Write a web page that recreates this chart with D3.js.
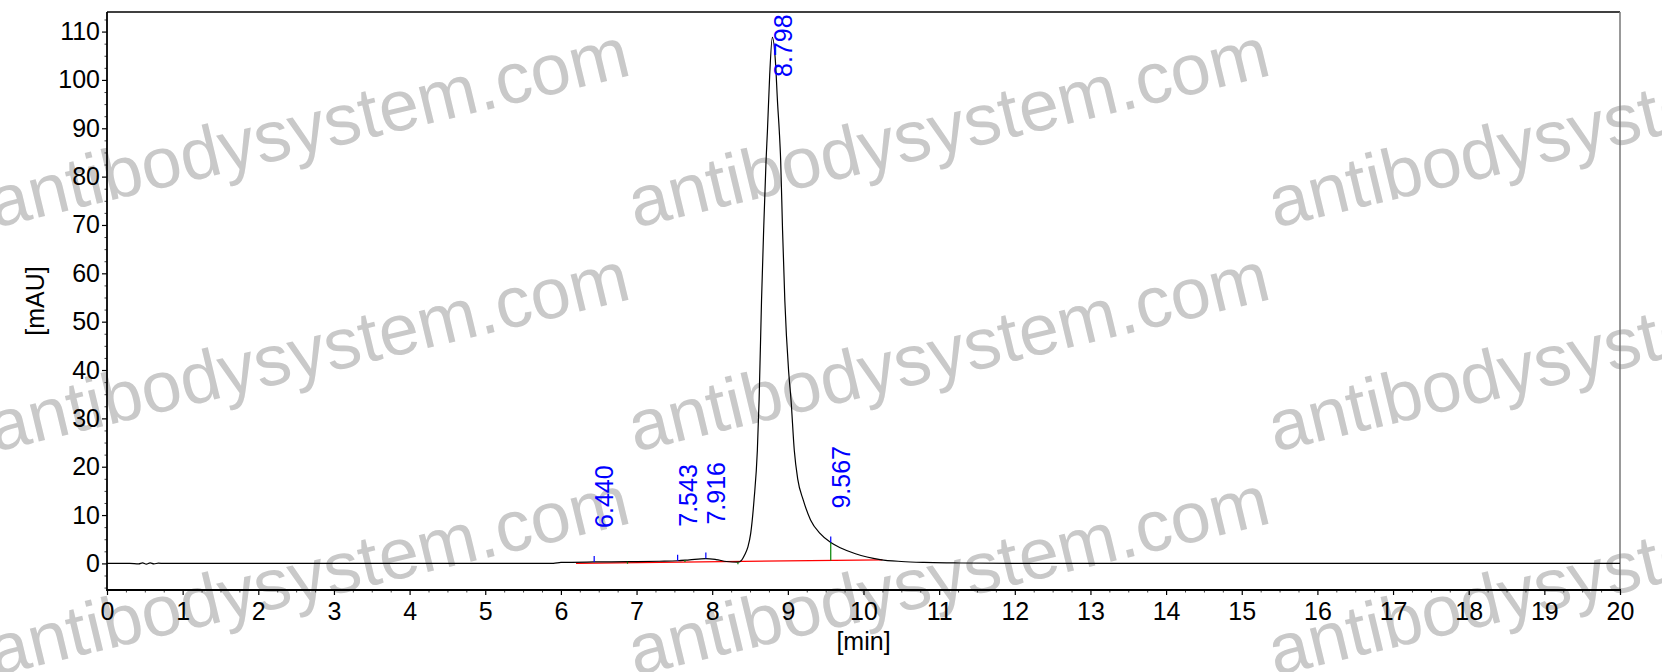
<!DOCTYPE html>
<html>
<head>
<meta charset="utf-8">
<script src="https://cdn.jsdelivr.net/npm/d3@7/dist/d3.min.js"></script>
<style>
  html, body { margin: 0; padding: 0; background: #fff; }
  svg { display: block; }
  text { font-family: "Liberation Sans", Arial, sans-serif; }
</style>
</head>
<body>
<svg id="chart" width="1662" height="672"></svg>
<script>
// ---- data ----
const times = [0, 0.3, 0.42, 0.47, 0.52, 0.57, 0.62, 0.68, 0.75, 1.0, 2.0, 3.0, 4.0, 5.0, 5.9, 6.0, 6.44, 6.9, 7.3, 7.543, 7.7, 7.916, 8.05, 8.19, 8.34, 8.39, 8.43, 8.47, 8.509, 8.553, 8.597, 8.62, 8.652, 8.68, 8.712, 8.73, 8.76, 8.795, 8.835, 8.865, 8.887, 8.905, 8.93, 8.96, 9.01, 9.042, 9.085, 9.13, 9.204, 9.30, 9.425, 9.567, 9.70, 9.894, 10.22, 10.5, 10.8, 11.2, 12.0, 14, 16, 18, 20];
const signal = [0, 0, -0.1, 0.1, -0.15, 0.1, -0.1, 0.05, 0, 0, 0, 0, 0, 0, 0, 0.2, 0.3, 0.35, 0.45, 0.55, 0.75, 1.0, 0.8, 0.4, 0.25, 0.7, 1.8, 3.3, 6.2, 13.1, 23.4, 33.8, 54.4, 68.9, 83.4, 89.4, 101, 108.8, 104, 95, 89.4, 83.4, 68.9, 54.4, 39.8, 33.8, 23.4, 17.5, 13.1, 9.0, 6.2, 4.3, 3.2, 2.0, 0.8, 0.4, 0.2, 0.1, 0, 0, 0, 0, 0];

const peakTimes = [6.440, 7.543, 7.916, 8.798, 9.567];
const peakLabels = ["6.440", "7.543", "7.916", "8.798", "9.567"];
const peakHeights = [0.3, 0.55, 1.0, 108.8, 4.3];

const dropTimes = [6.88, 7.64, 8.34, 9.567];
const dropHeights = [0.35, 0.7, 0.25, 4.3];

const baselineTimes = [6.2, 10.25];
const baselineValues = [0.0, 0.75];

const xTicks = d3.range(0, 21, 1);
const yTicks = d3.range(0, 111, 10);
const xMinorTicks = d3.range(0, 20.001, 0.25);
const yMinorTicks = d3.range(-5, 112.6, 2.5);

const xTitle = "[min]";
const yTitle = "[mAU]";
const watermark = "antibodysystem.com";

// ---- layout ----
const L = 107, R = 1620, T = 12, B = 590;
const svg = d3.select("#chart");
const x = d3.scaleLinear().domain([0, 20]).range([L, R]);
const y = d3.scaleLinear().domain([-5.5, 114.05]).range([B, T]);

// watermark (behind)
const wm = svg.append("g");
for (let r = 0; r < 3; r++) {
  for (let c = 0; c < 3; c++) {
    const x0 = -5 + c * 640, y0 = 228 + r * 224;
    wm.append("text")
      .attr("transform", `translate(${x0},${y0}) rotate(-13.5)`)
      .attr("font-size", 72)
      .attr("fill", "#c9c9c9")
      .text(watermark);
  }
}

// clip
svg.append("clipPath").attr("id", "clip")
  .append("rect").attr("x", L).attr("y", T).attr("width", R - L).attr("height", B - T);

// axes
const fs = 25;
const yAxis = svg.append("g").attr("transform", `translate(${L},0)`)
  .call(d3.axisLeft(y).tickValues(yTicks).tickSize(5).tickPadding(2).tickFormat(d3.format("d")));
yAxis.select(".domain").remove();
yAxis.selectAll("text").attr("font-size", fs).attr("fill", "#000").attr("font-family", "Liberation Sans, Arial, sans-serif");
yAxis.selectAll("line").attr("stroke", "#000").attr("stroke-width", 1.2);

const yMinor = svg.append("g").attr("transform", `translate(${L},0)`)
  .call(d3.axisLeft(y).tickValues(yMinorTicks.filter(v => v % 10 !== 0)).tickSize(2.5).tickFormat(""));
yMinor.select(".domain").remove();
yMinor.selectAll("line").attr("stroke", "#444").attr("stroke-width", 1);

const xAxis = svg.append("g").attr("transform", `translate(0,${B})`)
  .call(d3.axisBottom(x).tickValues(xTicks).tickSize(5).tickPadding(7).tickFormat(d3.format("d")));
xAxis.select(".domain").remove();
xAxis.selectAll("text").attr("font-size", fs).attr("fill", "#000").attr("font-family", "Liberation Sans, Arial, sans-serif");
xAxis.selectAll("line").attr("stroke", "#000").attr("stroke-width", 1.2);

const xMinor = svg.append("g").attr("transform", `translate(0,${B})`)
  .call(d3.axisBottom(x).tickValues(xMinorTicks.filter(v => v % 1 !== 0)).tickSize(2.5).tickFormat(""));
xMinor.select(".domain").remove();
xMinor.selectAll("line").attr("stroke", "#444").attr("stroke-width", 1);

// frame
svg.append("line").attr("x1", L).attr("x2", R).attr("y1", T).attr("y2", T).attr("stroke", "#000").attr("stroke-width", 1.5);
svg.append("line").attr("x1", R).attr("x2", R).attr("y1", T).attr("y2", B).attr("stroke", "#777").attr("stroke-width", 1.5);
svg.append("line").attr("x1", L).attr("x2", L).attr("y1", T).attr("y2", B + 1).attr("stroke", "#000").attr("stroke-width", 1.8);
svg.append("line").attr("x1", L).attr("x2", R + 1).attr("y1", B).attr("y2", B).attr("stroke", "#000").attr("stroke-width", 2.2);

// titles
svg.append("text").attr("x", (L + R) / 2).attr("y", 650).attr("text-anchor", "middle")
  .attr("font-size", fs).attr("fill", "#000").text(xTitle);
svg.append("text").attr("transform", `translate(44,${(T + B) / 2}) rotate(-90)`).attr("text-anchor", "middle")
  .attr("font-size", fs).attr("fill", "#000").text(yTitle);

const plot = svg.append("g").attr("clip-path", "url(#clip)");

// integration baseline
plot.append("line")
  .attr("x1", x(baselineTimes[0])).attr("y1", y(baselineValues[0]))
  .attr("x2", x(baselineTimes[1])).attr("y2", y(baselineValues[1]))
  .attr("stroke", "#ff0000").attr("stroke-width", 1.2);

// chromatogram
const pts = times.map((t, i) => [t, signal[i]]);
plot.append("path").datum(pts)
  .attr("fill", "none").attr("stroke", "#000").attr("stroke-width", 1.2)
  .attr("d", d3.line().x(d => x(d[0])).y(d => y(d[1])).curve(d3.curveMonotoneX));

// drop lines (green)
const blAt = t => baselineValues[0] + (t - baselineTimes[0]) / (baselineTimes[1] - baselineTimes[0]) * (baselineValues[1] - baselineValues[0]);
dropTimes.forEach((t, i) => {
  plot.append("line").attr("x1", x(t)).attr("x2", x(t))
    .attr("y1", y(dropHeights[i])).attr("y2", Math.max(y(blAt(t)), y(dropHeights[i]) + 2))
    .attr("stroke", "#008000").attr("stroke-width", 1.2);
});

// peak ticks and labels (blue)
peakTimes.forEach((t, i) => {
  const yp = y(peakHeights[i]);
  if (peakHeights[i] < 50) {
    plot.append("line").attr("x1", x(t)).attr("x2", x(t)).attr("y1", yp - 6).attr("y2", yp)
      .attr("stroke", "#0000ff").attr("stroke-width", 1.2);
  }
  const bottom = Math.max(yp - 34, 13 + 64);
  svg.append("text")
    .attr("transform", `translate(${x(t) + 19},${bottom}) rotate(-90)`)
    .attr("font-size", fs).attr("fill", "#0000ff").text(peakLabels[i]);
});
</script>
</body>
</html>
